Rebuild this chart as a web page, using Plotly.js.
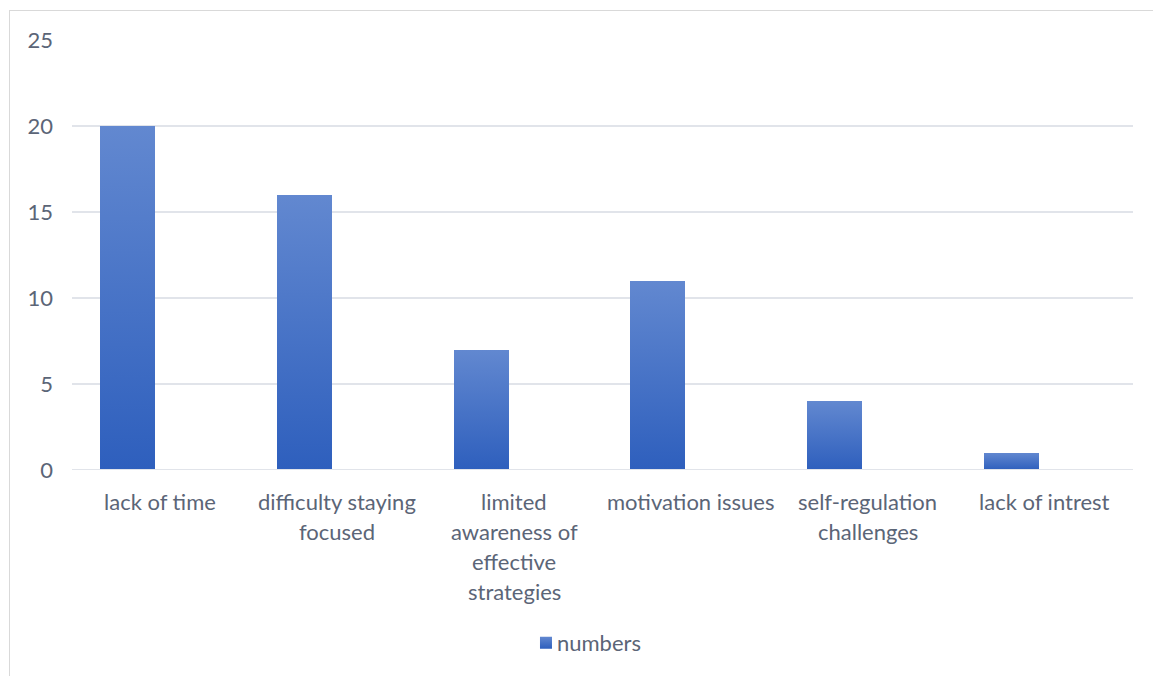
<!DOCTYPE html>
<html>
<head>
<meta charset="utf-8">
<script src="https://cdn.plot.ly/plotly-3.0.1.min.js"></script>
<style>
  html, body { margin: 0; padding: 0; background: #ffffff; }
  #wrap { position: relative; width: 1153px; height: 676px; overflow: hidden; }
  #frame { position: absolute; left: 9px; top: 10px; width: 1150px; height: 670px;
           border: 1px solid #d9d9d9; box-sizing: border-box; pointer-events: none; }
  #chart { position: absolute; left: 0; top: 0; width: 1153px; height: 676px; }
</style>
</head>
<body>
<div id="wrap">
  <div id="chart"></div>
  <div id="frame"></div>
</div>
<script>
// Reported obstacles and how many respondents named each one
const categories = [
  "lack of time",
  "difficulty staying<br>focused",
  "limited<br>awareness of<br>effective<br>strategies",
  "motivation issues",
  "self-regulation<br>challenges",
  "lack of intrest"
];
const numbers = [20, 16, 7, 11, 4, 1];
const seriesName = "numbers";
const yTicks = [0, 5, 10, 15, 20, 25];

const textColor = "#5b6577";
const gridColor = "#e1e4ea";
const fontFamily = "Lato, 'Noto Sans', sans-serif";
const fontSize = 22;

const idx = categories.map((_, i) => i);

const trace = {
  type: "bar",
  x: idx,
  y: numbers,
  name: seriesName,
  width: 0.311,
  offset: -0.342,
  marker: { color: "#4472c4", line: { width: 0 } },
  showlegend: true,
  hoverinfo: "y"
};

// Category labels, one annotation per text line so the line spacing is open
const annotations = [];
categories.forEach((label, i) => {
  label.split("<br>").forEach((line, j) => {
    annotations.push({
      x: i, xref: "x", y: 0, yref: "paper",
      text: line, showarrow: false,
      xanchor: "center", yanchor: "middle",
      yshift: -31 - 30 * j,
      font: { family: fontFamily, size: fontSize, color: textColor }
    });
  });
});

const layout = {
  width: 1153, height: 676,
  margin: { l: 72, r: 20, t: 40, b: 206 },
  paper_bgcolor: "rgba(0,0,0,0)",
  plot_bgcolor: "rgba(0,0,0,0)",
  font: { family: fontFamily, size: fontSize, color: textColor },
  bargap: 0,
  xaxis: {
    range: [-0.5, categories.length - 0.5],
    showticklabels: false, showgrid: false, zeroline: false,
    showline: false, ticks: ""
  },
  yaxis: {
    range: [0, 25],
    tickvals: yTicks,
    ticktext: yTicks.map(String),
    showgrid: true, gridcolor: gridColor, gridwidth: 2,
    zeroline: false, showline: false, ticks: "",
    ticklabelstandoff: 18,
    tickfont: { family: fontFamily, size: fontSize, color: textColor }
  },
  showlegend: true,
  legend: {
    orientation: "h",
    x: 0.4194, xanchor: "left",
    y: -0.402, yanchor: "middle",
    font: { family: fontFamily, size: fontSize, color: textColor },
    itemwidth: 30
  },
  shapes: [{
    type: "line", xref: "paper", yref: "y",
    x0: 0, x1: 1, y0: 0, y1: 0,
    line: { color: gridColor, width: 2 }
  }],
  annotations: annotations
};

// Vertical light-to-dark fill on the bars and the legend swatch
function applyGradient(gd) {
  const svg = gd.querySelector("svg.main-svg");
  if (!svg) return;
  let defs = svg.querySelector("defs");
  if (!defs) {
    defs = document.createElementNS("http://www.w3.org/2000/svg", "defs");
    svg.insertBefore(defs, svg.firstChild);
  }
  if (!svg.querySelector("#barGrad")) {
    const ns = "http://www.w3.org/2000/svg";
    const g = document.createElementNS(ns, "linearGradient");
    g.setAttribute("id", "barGrad");
    g.setAttribute("x1", "0"); g.setAttribute("y1", "0");
    g.setAttribute("x2", "0"); g.setAttribute("y2", "1");
    [["0", "#6288d0"], ["1", "#2e5fbd"]].forEach(([o, c]) => {
      const s = document.createElementNS(ns, "stop");
      s.setAttribute("offset", o);
      s.setAttribute("stop-color", c);
      g.appendChild(s);
    });
    defs.appendChild(g);
  }
  gd.querySelectorAll(".bars .point path").forEach(p => {
    p.style.fill = "url(#barGrad)";
  });
  gd.querySelectorAll(".legend .legendpoints path").forEach(p => {
    p.style.fill = "url(#barGrad)";
  });
  // keep the swatch close to its label
  gd.querySelectorAll(".legend .legendpoints").forEach(g => {
    g.setAttribute("transform", "translate(9,0)");
  });
}

const gd = document.getElementById("chart");
Plotly.newPlot(gd, [trace], layout, { displayModeBar: false, staticPlot: true })
  .then(() => {
    applyGradient(gd);
    gd.on("plotly_afterplot", () => applyGradient(gd));
  });
</script>
</body>
</html>
